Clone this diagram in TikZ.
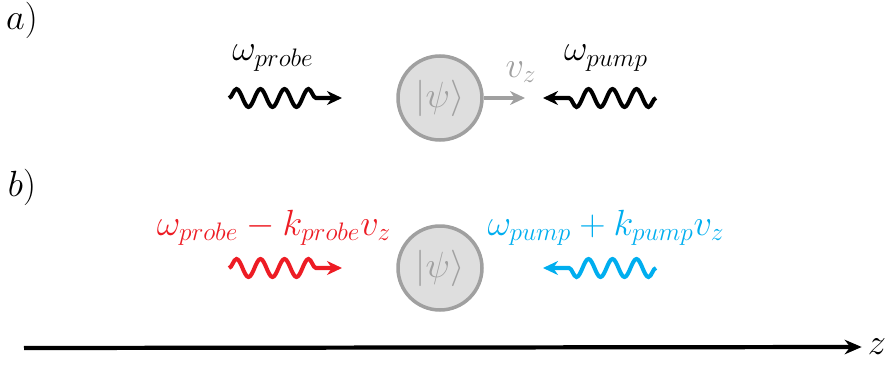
\documentclass[tikz,border=0pt]{standalone}
\usepackage{amsmath}
\usepackage{xcolor}
\usetikzlibrary{arrows.meta,decorations.pathmorphing}

\definecolor{probered}{HTML}{ED1C24}
\definecolor{pumpblue}{HTML}{00AEEF}
\definecolor{atomfill}{HTML}{DEDEDE}
\definecolor{atomline}{HTML}{A0A0A0}

\begin{document}
\begin{tikzpicture}[
  x=0.02cm,y=-0.02cm,
  big/.style={font=\huge},
  atom/.style={draw=atomline,circle,fill=atomfill,line width=2pt,
               minimum size=1.68cm,inner sep=0pt,text=atomline,big},
  wave/.style={line width=2.3pt,-{Stealth[length=3mm,width=2.8mm]},
               decorate,decoration={snake,segment length=0.48cm,
               amplitude=0.18cm,post length=0.36cm}},
  vel/.style={line width=2.2pt,atomline,-{Stealth[length=3mm,width=2.8mm]}},
  axis/.style={line width=2.4pt,-{Stealth[length=3.4mm,width=2.9mm]}}
]
\useasboundingbox (0,0) rectangle (890,365);

\node[big] (lblA) at (22,20) {$a)$};
\node[big] (lblB) at (22,187) {$b)$};

% a) atom moving along z
\node[atom] (atomA) at (440,98) {$|\psi\rangle$};
\coordinate (velEnd) at (525,98);
\draw[vel] (atomA) -- (velEnd);
\node[big,text=atomline] (vz) at (521,72) {$v_z$};

\coordinate (probeAin) at (229,98);
\coordinate (probeAout) at (342,98);
\draw[wave] (probeAin) -- (probeAout);
\node[big] (probeAlbl) at (273,58) {$\omega_{probe}$};

\coordinate (pumpAin) at (656,98);
\coordinate (pumpAout) at (543,98);
\draw[wave] (pumpAin) -- (pumpAout);
\node[big] (pumpAlbl) at (606,58) {$\omega_{pump}$};

% b) frame of the atom
\node[atom] (atomB) at (440,268) {$|\psi\rangle$};

\coordinate (probeBin) at (229,268);
\coordinate (probeBout) at (342,268);
\draw[wave,probered] (probeBin) -- (probeBout);
\node[big,text=probered] (probeBlbl) at (274,228) {$\omega_{probe}-k_{probe}v_z$};

\coordinate (pumpBin) at (656,268);
\coordinate (pumpBout) at (543,268);
\draw[wave,pumpblue] (pumpBin) -- (pumpBout);
\node[big,text=pumpblue] (pumpBlbl) at (606,228) {$\omega_{pump}+k_{pump}v_z$};

% z axis
\coordinate (zStart) at (24,348);
\node[big] (zlbl) at (877,347) {$z$};
\draw[axis] (zStart) -- (zlbl.west);
\end{tikzpicture}
\end{document}
